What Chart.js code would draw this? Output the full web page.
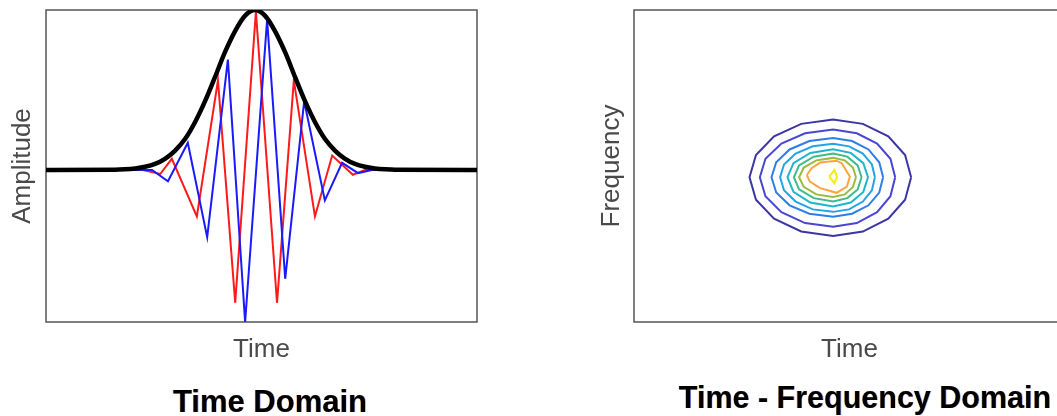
<!DOCTYPE html>
<html>
<head>
<meta charset="utf-8">
<script src="https://cdn.jsdelivr.net/npm/chart.js@4.4.1/dist/chart.umd.min.js"></script>
<style>
html, body { margin: 0; padding: 0; background: #fff; overflow: hidden; }
#wrap { position: relative; width: 1057px; height: 416px; overflow: hidden; }
canvas { position: absolute; top: 0; }
#timeChart { left: 0; }
#tfChart { left: 528px; }
.caption {
    position: absolute;
    font: bold 31px "Liberation Sans", Arial, sans-serif;
    line-height: 31px;
    color: #000;
    white-space: nowrap;
    transform: translateX(-50%);
    text-shadow: -0.6px 0 rgba(255, 140, 0, 0.45), 0.6px 0 rgba(0, 60, 255, 0.45);
}
</style>
</head>
<body>
<div id="wrap">
    <canvas id="timeChart" width="528" height="416"></canvas>
    <canvas id="tfChart" width="545" height="416"></canvas>
    <div class="caption" style="left:270px; top:386px">Time Domain</div>
    <div class="caption" style="left:865px; top:382px; font-size:30.5px">Time - Frequency Domain</div>
</div>

<script>
// ====================================
// DATOS
// ====================================

// Envolvente (negro)
const envelopeT = [0, 16.0, 18.3, 20.7, 23.0, 25.3, 27.6, 29.9, 32.3, 34.6, 36.9, 39.2, 41.5, 43.9, 46.2, 48.5,
    50.8, 53.1, 55.5, 57.8, 60.1, 62.4, 64.7, 67.1, 69.4, 71.7, 74.0, 76.3, 78.7, 81.0, 100];
const envelope = [0, 0.001, 0.004, 0.01, 0.02, 0.038, 0.07, 0.12, 0.195, 0.30, 0.43, 0.58, 0.735, 0.87, 0.965, 1.0,
    0.965, 0.87, 0.735, 0.58, 0.43, 0.30, 0.195, 0.12, 0.07, 0.038, 0.02, 0.01, 0.004, 0.001, 0];

// Parte real (rojo)
const realT = [0, 22.5, 26.5, 29.2, 35.0, 39.9, 43.9, 48.7, 53.6, 57.5, 62.4, 66.4, 71.2, 74.0, 100];
const realPart = [0, 0, -0.025, 0.07, -0.29, 0.56, -0.83, 0.99, -0.83, 0.56, -0.29, 0.09, -0.03, 0, 0];

// Parte imaginaria (azul)
const imagT = [0, 24.6, 28.3, 32.9, 37.4, 42.2, 46.2, 51.3, 55.5, 59.9, 64.7, 68.7, 72.4, 75.6, 100];
const imagPart = [0, 0, -0.07, 0.17, -0.42, 0.69, -0.95, 0.94, -0.68, 0.43, -0.19, 0.045, -0.02, 0, 0];

// Curvas de nivel [tiempo, frecuencia], de la exterior a la interior
const contour1 = [[64.3, 46.4], [62.9, 53.5], [59.0, 59.5], [53.1, 63.5], [46.2, 64.9], [38.8, 63.5], [32.5, 59.5], [28.3, 53.5],
    [26.8, 46.4], [28.3, 39.2], [32.5, 33.1], [38.8, 29.0], [46.2, 27.6], [53.1, 29.0], [59.0, 33.1], [62.9, 39.2], [64.3, 46.4]];
const contour2 = [[60.6, 46.4], [59.5, 52.3], [56.4, 57.2], [51.7, 60.5], [46.2, 61.7], [39.7, 60.5], [34.2, 57.2], [30.5, 52.3],
    [29.2, 46.4], [30.5, 40.3], [34.2, 35.2], [39.7, 31.7], [46.2, 30.5], [51.7, 31.7], [56.4, 35.2], [59.5, 40.3], [60.6, 46.4]];
const contour3 = [[57.8, 46.4], [56.9, 51.2], [54.4, 55.3], [50.6, 58.0], [46.2, 59.0], [40.7, 58.0], [36.1, 55.3], [33.0, 51.2],
    [31.9, 46.4], [33.0, 41.5], [36.1, 37.4], [40.7, 34.7], [46.2, 33.7], [50.6, 34.7], [54.4, 37.4], [56.9, 41.5], [57.8, 46.4]];
const contour4 = [[55.9, 46.4], [55.2, 50.5], [53.1, 54.0], [49.9, 56.3], [46.2, 57.1], [41.5, 56.3], [37.5, 54.0], [34.8, 50.5],
    [33.9, 46.4], [34.8, 42.2], [37.5, 38.6], [41.5, 36.1], [46.2, 35.3], [49.9, 36.1], [53.1, 38.6], [55.2, 42.2], [55.9, 46.4]];
const contour5 = [[54.3, 46.4], [53.2, 50.9], [50.3, 54.2], [46.2, 55.4], [40.9, 54.2], [37.0, 50.9], [35.6, 46.4],
    [37.0, 41.7], [40.9, 38.3], [46.2, 37.0], [50.3, 38.3], [53.2, 41.7], [54.3, 46.4]];
const contour6 = [[52.8, 46.4], [51.9, 50.2], [49.5, 53.0], [46.2, 54.0], [41.7, 53.0], [38.3, 50.2], [37.1, 46.4],
    [38.3, 42.5], [41.7, 39.7], [46.2, 38.6], [49.5, 39.7], [51.9, 42.5], [52.8, 46.4]];
const contour7 = [[51.5, 46.4], [50.8, 49.5], [48.9, 51.8], [46.2, 52.6], [42.3, 51.8], [39.4, 49.5], [38.3, 46.4],
    [39.4, 43.3], [42.3, 40.9], [46.2, 40.1], [48.9, 40.9], [50.8, 43.3], [51.5, 46.4]];
const contour8 = [[40.1, 47.1], [41.2, 49.3], [43.2, 51.1], [47.0, 51.7], [48.2, 50.9], [50.1, 46.6], [49.4, 43.4],
    [47.0, 41.4], [43.2, 42.9], [40.8, 45.0], [40.1, 47.1]];
const contour9 = [[45.3, 46.6], [46.5, 48.7], [47.1, 46.6], [46.5, 44.5], [45.3, 46.6]];

const contours = [contour1, contour2, contour3, contour4, contour5, contour6, contour7, contour8, contour9];
const contourColors = ['#3b35a5', '#4a46d4', '#2f7de8', '#23a4e3', '#20b5c9', '#3dbb8a', '#9bbb3a', '#ffa53c', '#f0ee10'];

// ====================================
// GRAFICAS
// ====================================

const axisFont = { family: '"Liberation Sans", Arial, sans-serif', size: 26 };
const axisColor = '#4a4a4a';

// Marco alrededor del area de dibujo
const framePlugin = {
    id: 'frame',
    beforeDatasetsDraw(chart) {
        const { ctx, chartArea: a } = chart;
        ctx.save();
        ctx.strokeStyle = '#555';
        ctx.lineWidth = 1.5;
        ctx.strokeRect(a.left, a.top, a.right - a.left, a.bottom - a.top);
        ctx.restore();
    }
};

function toPoints(xs, ys) {
    return xs.map((x, i) => ({ x: x, y: ys[i] }));
}

function hiddenAxis(min, max, title, padding) {
    return {
        type: 'linear',
        min: min,
        max: max,
        ticks: { display: false },
        grid: { display: false, drawTicks: false },
        border: { display: false },
        title: { display: true, text: title, font: axisFont, color: axisColor, padding: padding }
    };
}

new Chart(document.getElementById('timeChart'), {
    type: 'line',
    data: {
        datasets: [
            {
                label: 'Envolvente',
                data: toPoints(envelopeT, envelope),
                borderColor: '#000',
                borderWidth: 4.5,
                cubicInterpolationMode: 'monotone'
            },
            {
                label: 'Imaginaria',
                data: toPoints(imagT, imagPart),
                borderColor: '#1a1aff',
                borderWidth: 2
            },
            {
                label: 'Real',
                data: toPoints(realT, realPart),
                borderColor: '#ff1a1a',
                borderWidth: 2
            }
        ]
    },
    options: {
        responsive: false,
        animation: false,
        layout: { padding: { left: 0, right: 51, top: 10, bottom: 50.4 } },
        elements: { point: { radius: 0 }, line: { tension: 0 } },
        plugins: { legend: { display: false }, tooltip: { enabled: false } },
        scales: {
            x: hiddenAxis(0, 100, 'Time', { top: 12.4, bottom: 0 }),
            y: hiddenAxis(-0.95, 1, 'Amplitude', { top: 7.4, bottom: 7.4 })
        }
    },
    plugins: [framePlugin]
});

new Chart(document.getElementById('tfChart'), {
    type: 'scatter',
    data: {
        datasets: contours.map((c, i) => ({
            label: 'Nivel ' + (i + 1),
            data: c.map(p => ({ x: p[0], y: p[1] })),
            showLine: true,
            borderColor: contourColors[i],
            borderWidth: 2
        }))
    },
    options: {
        responsive: false,
        animation: false,
        layout: { padding: { left: 68.4, right: 8, top: 10, bottom: 50.4 } },
        elements: { point: { radius: 0 }, line: { tension: 0 } },
        plugins: { legend: { display: false }, tooltip: { enabled: false } },
        scales: {
            x: hiddenAxis(0, 100, 'Time', { top: 12.4, bottom: 0 }),
            y: hiddenAxis(0, 100, 'Frequency', { top: 0, bottom: 6.4 })
        }
    },
    plugins: [framePlugin]
});
</script>
</body>
</html>
